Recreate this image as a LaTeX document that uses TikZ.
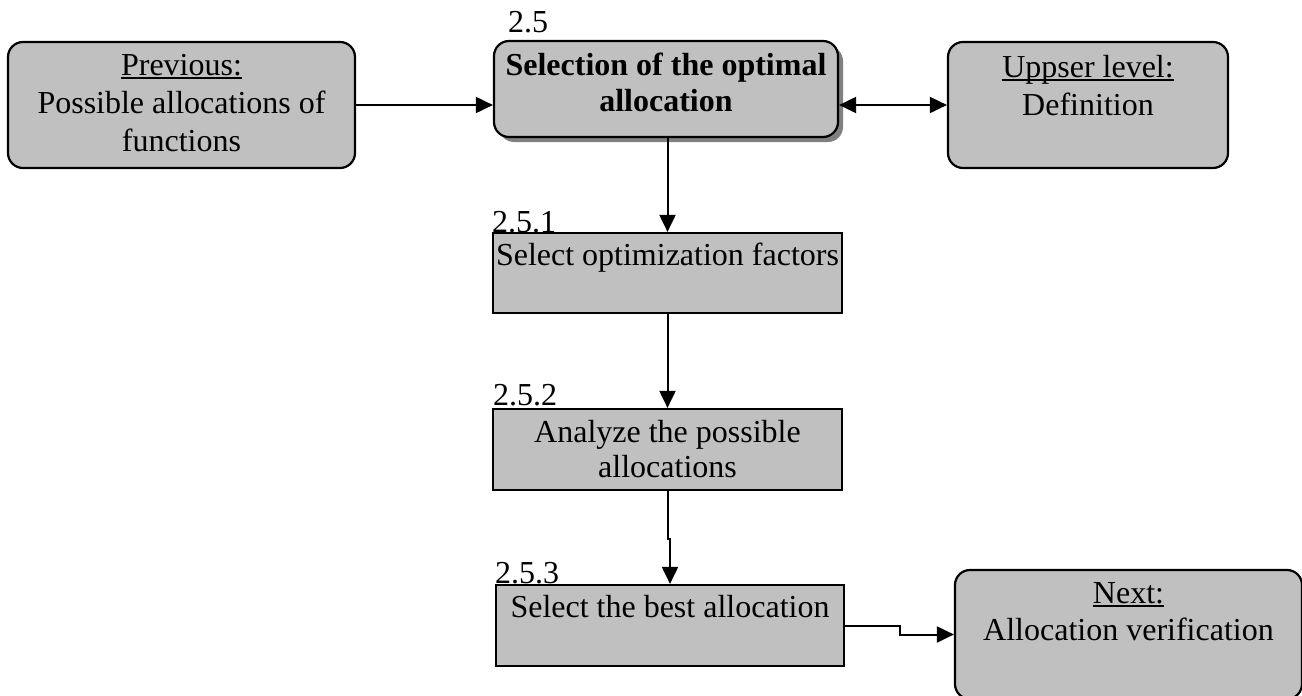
\documentclass[tikz,border=0pt]{standalone}
\usepackage{fontspec}
\setmainfont{Liberation Serif}
\usetikzlibrary{arrows.meta,shadows}
\definecolor{boxgray}{RGB}{192,192,192}
\definecolor{shadowgray}{RGB}{128,128,128}
% box text: width, height, first-baseline drop, text (top aligned, centred)
\newcommand\bxt[4]{\parbox[c][#2pt][t]{#1pt}{\centering\rule{0pt}{#3pt}#4}}
% underline close to the baseline, crossing descenders
\newcommand\ulword[1]{\setbox0\hbox{#1}\rlap{\rule[-3.5pt]{\wd0}{1.6pt}}\box0}
\tikzset{
  box/.style={draw, line width=2.2pt, fill=boxgray, inner sep=0pt},
  rbox/.style={box, rounded corners=15pt},
  num/.style={anchor=base west, inner sep=0pt},
  arr/.style={line width=2pt, -{Triangle[length=17pt,width=16pt]}},
  dblarr/.style={line width=2pt, {Triangle[length=17pt,width=16pt]}-{Triangle[length=17pt,width=16pt]}},
}
\begin{document}
\begin{tikzpicture}[x=1pt,y=-1pt,font=\fontsize{32}{38}\selectfont]
\useasboundingbox (0,0) rectangle (1302,696);
\clip (0,0) rectangle (1302,696);

% outer context boxes
\node[rbox] (prev) at (181.5,105) {\bxt{347}{126}{33}{\ulword{Previous:}\\Possible allocations of\\functions}};
\node[rbox, drop shadow={fill=shadowgray, opacity=1, shadow xshift=5pt, shadow yshift=-5pt}]
  (main) at (666,89) {\bxt{344}{96}{34}{\fontsize{32}{36}\selectfont\bfseries Selection of the optimal\\allocation}};
\node[rbox] (up) at (1088,105) {\bxt{280}{126}{35}{\ulword{Uppser level:}\\Definition}};
\node[rbox] (next) at (1128.5,634.5) {\bxt{347}{129}{33}{\ulword{Next:}\\[-1pt]Allocation verification}};

% sub-steps
\node[box] (s1) at (667.5,273) {\bxt{349}{80}{32}{Select optimization factors}};
\node[box] (s2) at (667.5,449.5) {\bxt{349}{81}{33}{\fontsize{32}{35}\selectfont Analyze the possible\\allocations}};
\node[box] (s3) at (670,625.5) {\bxt{348}{81}{32}{Select the best allocation}};

% step numbers
\node[num] (n0) at (508,32) {2.5};
\node[num] (n1) at (492,232) {2.5.1};
\node[num] (n2) at (493,405) {2.5.2};
\node[num] (n3) at (495,583) {2.5.3};

% connectors
\draw[arr] (prev.east) -- (prev.east -| main.west);
\draw[dblarr] (main.east |- up.west) -- (up.west);
\draw[arr] (s1.north |- main.south) -- (s1.north);
\draw[arr] (s1.south) -- (s1.south |- s2.north);
\draw[arr] (s2.south) -- ++(0,48) -| (s3.north);
\draw[arr] (s3.east) -- ++(55,0) |- (next.west);
\end{tikzpicture}
\end{document}
